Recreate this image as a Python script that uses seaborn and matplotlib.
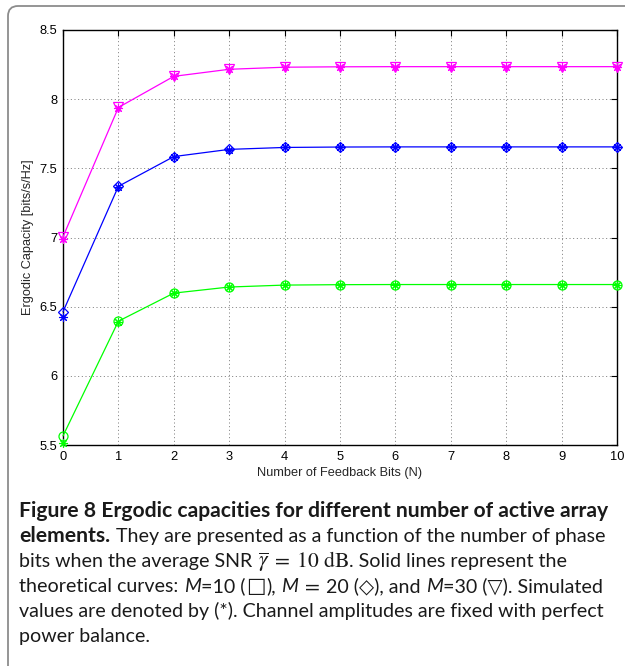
import matplotlib
matplotlib.use("Agg")
import matplotlib.pyplot as plt
import matplotlib.transforms as mtransforms
from matplotlib.patches import FancyBboxPatch
import pandas as pd
import seaborn as sns

# ---- data -------------------------------------------------------------
feedback_bits = [0, 1, 2, 3, 4, 5, 6, 7, 8, 9, 10]
x_ticks = [0, 1, 2, 3, 4, 5, 6, 7, 8, 9, 10]
y_ticks = [5.5, 6.0, 6.5, 7.0, 7.5, 8.0, 8.5]
y_tick_labels = ["5.5", "6", "6.5", "7", "7.5", "8", "8.5"]

theory_m10 = [5.566, 6.395, 6.598, 6.642, 6.656, 6.659, 6.660, 6.660, 6.660, 6.660, 6.660]
sim_m10 = [5.516, 6.392, 6.596, 6.641, 6.655, 6.659, 6.660, 6.660, 6.660, 6.660, 6.660]
theory_m20 = [6.463, 7.370, 7.585, 7.637, 7.651, 7.654, 7.655, 7.655, 7.655, 7.655, 7.655]
sim_m20 = [6.427, 7.367, 7.584, 7.636, 7.651, 7.654, 7.655, 7.655, 7.655, 7.655, 7.655]
theory_m30 = [7.005, 7.940, 8.165, 8.216, 8.231, 8.234, 8.235, 8.235, 8.235, 8.235, 8.235]
sim_m30 = [6.990, 7.938, 8.164, 8.215, 8.231, 8.234, 8.235, 8.235, 8.235, 8.235, 8.235]

series = [
    ("M=10", theory_m10, sim_m10, "#00ff00", "o"),
    ("M=20", theory_m20, sim_m20, "#0000ff", "D"),
    ("M=30", theory_m30, sim_m30, "#ff00ff", "v"),
]

# ---- style ------------------------------------------------------------
sns.set_theme(style="white")
plt.rcParams["font.family"] = ["Liberation Sans", "DejaVu Sans"]
plt.rcParams["mathtext.fontset"] = "stix"

W, H = 625, 666
fig = plt.figure(figsize=(W / 100, H / 100), dpi=100)
fig.patch.set_facecolor("white")

# axes rectangle (pixel edges: left 63, right 617, top 30, bottom 445)
ax = fig.add_axes([63 / W, 1 - 445 / H, (617 - 63) / W, (445 - 30) / H])

for name, theo, sim, color, mk in series:
    df = pd.DataFrame({"bits": feedback_bits, "theory": theo, "sim": sim})
    msize = 5.5 if mk == "D" else 6.5
    sns.lineplot(data=df, x="bits", y="theory", ax=ax, color=color, lw=0.9,
                 marker=mk, markersize=msize, markerfacecolor="none",
                 markeredgecolor=color, markeredgewidth=0.9, clip_on=False,
                 zorder=3)
    sns.lineplot(data=df, x="bits", y="sim", ax=ax, color=color,
                 linestyle="none", marker=(8, 2, 0), markersize=6.5,
                 markeredgecolor=color, markeredgewidth=0.8, clip_on=False,
                 zorder=4)

ax.set_xlim(0, 10)
ax.set_ylim(5.5, 8.5)
ax.set_xticks(x_ticks)
ax.set_xticklabels([str(t) for t in x_ticks])
ax.set_yticks(y_ticks)
ax.set_yticklabels(y_tick_labels)

ax.grid(True, color="#666666", lw=0.6, linestyle=(0, (1.2, 3.2)))
ax.set_axisbelow(True)
for sp in ax.spines.values():
    sp.set_visible(True)
    sp.set_color("black")
    sp.set_linewidth(1.0)
ax.tick_params(direction="in", length=4, width=0.8, top=True, right=True,
               labelsize=9.3, colors="black", pad=4)

ax.set_xlabel("Number of Feedback Bits (N)", fontsize=9.2, labelpad=3)
ax.set_ylabel("Ergodic Capacity [bits/s/Hz]", fontsize=9.2, labelpad=4)

# ---- surrounding frame ------------------------------------------------
ident = mtransforms.IdentityTransform()
frame = FancyBboxPatch((8, -40), 700, H - 6 + 40, boxstyle="round,pad=0,rounding_size=10",
                       transform=ident, facecolor="none", edgecolor="#8c8c8c",
                       lw=1.3, zorder=0)
fig.add_artist(frame)

# ---- caption ------------------------------------------------------------
cap_family = ["Lato", "DejaVu Sans"]
cap_color = "#1a1a1a"
renderer = fig.canvas.get_renderer()

line1 = "Figure 8 Ergodic capacities for different number of active array"
line5 = "values are denoted by (*). Channel amplitudes are fixed with perfect"


def measure(s, size, **kw):
    t = fig.text(0, 0, s, fontsize=size, transform=ident, family=cap_family, **kw)
    w = t.get_window_extent(renderer).width
    t.remove()
    return w


# fit the bold and regular caption sizes to the column width
base = 12.0
bold_size = base * 586.0 / measure(line1, base, fontweight="bold")
reg_size = base * 584.0 / measure(line5, base)
space_w = measure("x x", reg_size) - measure("xx", reg_size)

styles = {
    "r": dict(fontsize=reg_size, family=cap_family),
    "b": dict(fontsize=bold_size, fontweight="bold", family=cap_family),
    "i": dict(fontsize=reg_size, fontstyle="italic", family=cap_family),
    "s": dict(fontsize=reg_size * 1.05, family=["DejaVu Sans"]),
}

SP = ("sp", "")
lines = [
    [("b", line1)],
    [("b", "elements."), SP, ("r", "They are presented as a function of the number of phase")],
    [("r", "bits when the average SNR"), SP,
     ("m", r"$\overline{\gamma}\;=\;10\ \mathrm{dB}$"),
     ("r", ". Solid lines represent the")],
    [("r", "theoretical curves:"), SP, ("i", "M"), ("r", "=10 ("), ("s", "\u25a1"),
     ("r", "),"), SP, ("i", "M"), ("m", r"$\,=$"), SP, ("r", "20 (\u25c7), and"), SP,
     ("i", "M"), ("r", "=30 (\u25bd). Simulated")],
    [("r", line5)],
    [("r", "power balance.")],
]

baselines_top = [517, 542, 567, 592, 617, 642]
x0 = 19
for runs, yb in zip(lines, baselines_top):
    x = x0
    for kind, s in runs:
        if kind == "sp":
            x += space_w
            continue
        if kind == "m":
            t = fig.text(x, H - yb, s, fontsize=reg_size * 1.1, transform=ident,
                         color=cap_color, va="baseline")
        else:
            t = fig.text(x, H - yb, s, transform=ident, color=cap_color,
                         va="baseline", **styles[kind])
        x += t.get_window_extent(renderer).width + 0.5

fig.savefig("out.png", dpi=100)
